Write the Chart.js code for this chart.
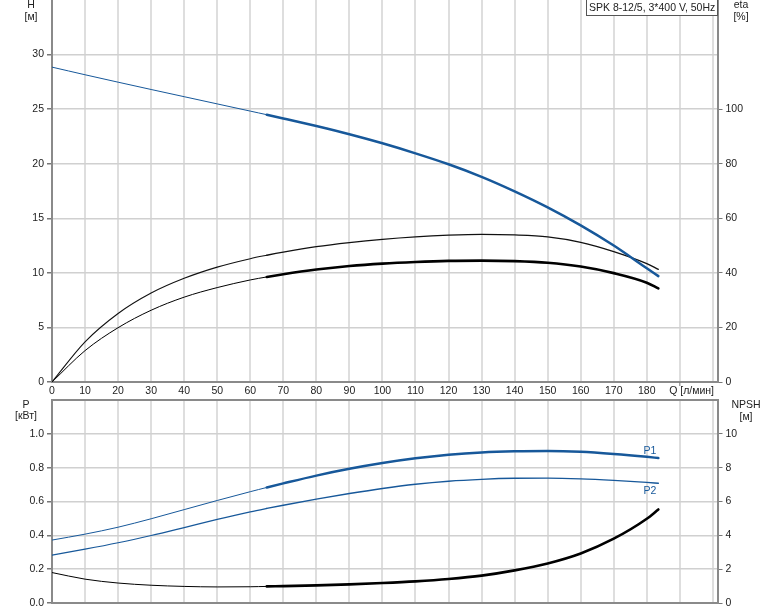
<!DOCTYPE html>
<html>
<head>
<meta charset="utf-8">
<script src="https://cdn.jsdelivr.net/npm/chart.js@4.4.0/dist/chart.umd.min.js"></script>
<style>
  body { margin: 0; background: #fff; }
  #wrap { position: relative; width: 774px; height: 611px; }
  canvas { position: absolute; left: 0; }
  #topChart { top: 0; }
  #bottomChart { top: 398px; }
</style>
</head>
<body>
<div id="wrap">
  <canvas id="topChart" width="774" height="400"></canvas>
  <canvas id="bottomChart" width="774" height="213"></canvas>
</div>
<script>
// Pump curves SPK 8-12/5
const flow     = [0, 10, 20, 30, 40, 50, 60, 65, 70, 80, 90, 100, 110, 120, 130, 140, 150, 160, 170, 180, 183.5];
const head     = [28.85, 28.15, 27.47, 26.8, 26.14, 25.48, 24.82, 24.49, 24.15, 23.45, 22.7, 21.87, 20.95, 19.95, 18.8, 17.47, 16.0, 14.35, 12.5, 10.42, 9.7];
const etaPump  = [0, 14.7, 25.1, 32.6, 38.0, 42.1, 45.2, 46.45, 47.6, 49.6, 51.1, 52.3, 53.2, 53.8, 54.1, 53.9, 53.2, 51.2, 47.8, 43.4, 41.3];
const etaTotal = [0, 11.5, 19.9, 26.3, 31.1, 34.6, 37.4, 38.5, 39.5, 41.2, 42.5, 43.4, 44.0, 44.4, 44.5, 44.3, 43.7, 42.3, 39.9, 36.4, 34.3];
const powerP1  = [0.372, 0.407, 0.448, 0.498, 0.552, 0.606, 0.658, 0.683, 0.707, 0.753, 0.793, 0.827, 0.855, 0.876, 0.890, 0.897, 0.899, 0.894, 0.881, 0.864, 0.857];
const powerP2  = [0.283, 0.318, 0.356, 0.399, 0.446, 0.494, 0.539, 0.559, 0.578, 0.614, 0.647, 0.677, 0.702, 0.720, 0.731, 0.737, 0.738, 0.734, 0.725, 0.713, 0.708];
const npsh     = [1.80, 1.41, 1.18, 1.05, 0.98, 0.95, 0.96, 0.98, 1.00, 1.04, 1.10, 1.18, 1.28, 1.42, 1.62, 1.93, 2.34, 2.93, 3.80, 4.98, 5.53];

const dutyStart = 65;      // curves get thick from here on
const qMax = 201.4;
const qLabelMax = 180;
const qUnitTick = 190;
const headTickMax = 30;
const etaTickMax = 100;
const powerTickMax = 1.0;
const npshTickMax = 10;

const BLUE = '#17589a';
const FONT = '"Liberation Sans", Arial, sans-serif';
Chart.defaults.font.family = FONT;
Chart.defaults.font.size = 10.5;
Chart.defaults.color = '#222';

const pts = (ys) => flow.map((q, i) => ({ x: q, y: ys[i] }));
const thickFrom = (w1, w2) => ({ borderWidth: c => c.p0.parsed.x >= dutyStart ? w2 : w1 });

function fixBox(prop, val) {
  return s => {
    s[prop] = val;
    s.paddingTop = 0; s.paddingBottom = 0; s.paddingLeft = 0; s.paddingRight = 0;
  };
}
const keepTicks = (max) => s => { s.ticks = s.ticks.filter(t => t.value <= max + 1e-9); };

const axisBorder = { display: true, color: '#8a8a8a', width: 2 };

function lineDs(data, color, axis, w1, w2) {
  return {
    data: data, yAxisID: axis,
    borderColor: color, borderWidth: w1,
    segment: thickFrom(w1, w2),
    pointRadius: 0, fill: false,
    cubicInterpolationMode: 'monotone',
    borderCapStyle: 'round'
  };
}

function xScale(showLabels, height) {
  return {
    type: 'linear', min: 0, max: qMax,
    afterFit: fixBox('height', height),
    border: axisBorder,
    grid: { color: '#dedede', lineWidth: 2, drawTicks: false },
    ticks: {
      display: showLabels, stepSize: 10, includeBounds: false,
      autoSkip: false, maxRotation: 0, padding: 3,
      callback: v => v <= qLabelMax ? v : ''
    }
  };
}

// Top: head and efficiency
const topText = {
  id: 'topText',
  afterDraw(chart) {
    const ctx = chart.ctx;
    const a = chart.chartArea;
    const xq = chart.scales.x.getPixelForValue(qUnitTick);
    ctx.save();
    ctx.strokeStyle = '#777';
    ctx.lineWidth = 1;
    ctx.beginPath();
    ctx.moveTo(xq, a.bottom);
    ctx.lineTo(xq, a.bottom + 4);
    ctx.stroke();
    ctx.font = '10.5px ' + FONT;
    ctx.fillStyle = '#222';
    ctx.textAlign = 'center';
    ctx.textBaseline = 'middle';
    ctx.fillText('H', 31, 5);
    ctx.fillText('[м]', 31, 17);
    ctx.fillText('eta', 741, 5);
    ctx.fillText('[%]', 741, 17);
    ctx.textAlign = 'right';
    ctx.fillText('Q [л/мин]', 714, 391);
    // model box
    ctx.fillStyle = '#fff';
    ctx.fillRect(586.5, 0, 131, 16);
    ctx.strokeStyle = '#555';
    ctx.strokeRect(586.5, -0.5, 131, 16);
    ctx.fillStyle = '#222';
    ctx.textAlign = 'left';
    ctx.fillText('SPK 8-12/5, 3*400 V, 50Hz', 589, 8);
    ctx.restore();
  }
};

new Chart(document.getElementById('topChart'), {
  type: 'line',
  data: {
    datasets: [
      lineDs(pts(head), BLUE, 'yH', 1, 2.5),
      lineDs(pts(etaPump), '#111', 'yEta', 1.1, 1.3),
      lineDs(pts(etaTotal), '#000', 'yEta', 1, 2.6)
    ]
  },
  options: {
    responsive: false,
    animation: false,
    layout: { padding: 0 },
    plugins: { legend: { display: false }, tooltip: { enabled: false } },
    scales: {
      x: xScale(true, 18),
      yH: {
        position: 'left', min: 0, max: 35,
        afterFit: fixBox('width', 52),
        afterBuildTicks: keepTicks(headTickMax),
        border: axisBorder,
        grid: { color: '#d0d0d0', lineWidth: 1.5, drawTicks: true, tickLength: 5, tickColor: '#777' },
        ticks: { stepSize: 5, padding: 3 }
      },
      yEta: {
        position: 'right', min: 0, max: 140,
        afterFit: fixBox('width', 56.5),
        afterBuildTicks: keepTicks(etaTickMax),
        border: axisBorder,
        grid: { drawOnChartArea: false, drawTicks: true, tickLength: 5, tickColor: '#777' },
        ticks: { stepSize: 20, padding: 3 }
      }
    }
  },
  plugins: [topText]
});

// Bottom: power and NPSH
const bottomText = {
  id: 'bottomText',
  afterDraw(chart) {
    const ctx = chart.ctx;
    const a = chart.chartArea;
    const xs = chart.scales.x, yp = chart.scales.yP;
    const n = flow.length - 1;
    ctx.save();
    ctx.strokeStyle = '#8a8a8a';
    ctx.lineWidth = 2;
    ctx.beginPath();
    ctx.moveTo(a.left, a.top);
    ctx.lineTo(a.right, a.top);
    ctx.stroke();
    ctx.font = '10.5px ' + FONT;
    ctx.fillStyle = '#222';
    ctx.textAlign = 'center';
    ctx.textBaseline = 'middle';
    ctx.fillText('P', 26, 7);
    ctx.fillText('[кВт]', 26, 18);
    ctx.fillText('NPSH', 746, 7);
    ctx.fillText('[м]', 746, 19);
    ctx.fillStyle = BLUE;
    const xe = xs.getPixelForValue(flow[n]) - 8.5;
    ctx.fillText('P1', xe, yp.getPixelForValue(powerP1[n]) - 7);
    ctx.fillText('P2', xe, yp.getPixelForValue(powerP2[n]) + 8);
    ctx.restore();
  }
};

new Chart(document.getElementById('bottomChart'), {
  type: 'line',
  data: {
    datasets: [
      lineDs(pts(powerP1), BLUE, 'yP', 1, 2.5),
      lineDs(pts(powerP2), BLUE, 'yP', 1.2, 1.4),
      lineDs(pts(npsh), '#000', 'yN', 1, 2.6)
    ]
  },
  options: {
    responsive: false,
    animation: false,
    layout: { padding: { top: 2 } },
    plugins: { legend: { display: false }, tooltip: { enabled: false } },
    scales: {
      x: xScale(false, 8),
      yP: {
        position: 'left', min: 0, max: 1.2,
        afterFit: fixBox('width', 52),
        afterBuildTicks: keepTicks(powerTickMax),
        border: axisBorder,
        grid: { color: '#d0d0d0', lineWidth: 1.5, drawTicks: true, tickLength: 5, tickColor: '#777' },
        ticks: { stepSize: 0.2, padding: 3, callback: v => v.toFixed(1) }
      },
      yN: {
        position: 'right', min: 0, max: 12,
        afterFit: fixBox('width', 56.5),
        afterBuildTicks: keepTicks(npshTickMax),
        border: axisBorder,
        grid: { drawOnChartArea: false, drawTicks: true, tickLength: 5, tickColor: '#777' },
        ticks: { stepSize: 2, padding: 3 }
      }
    }
  },
  plugins: [bottomText]
});
</script>
</body>
</html>
